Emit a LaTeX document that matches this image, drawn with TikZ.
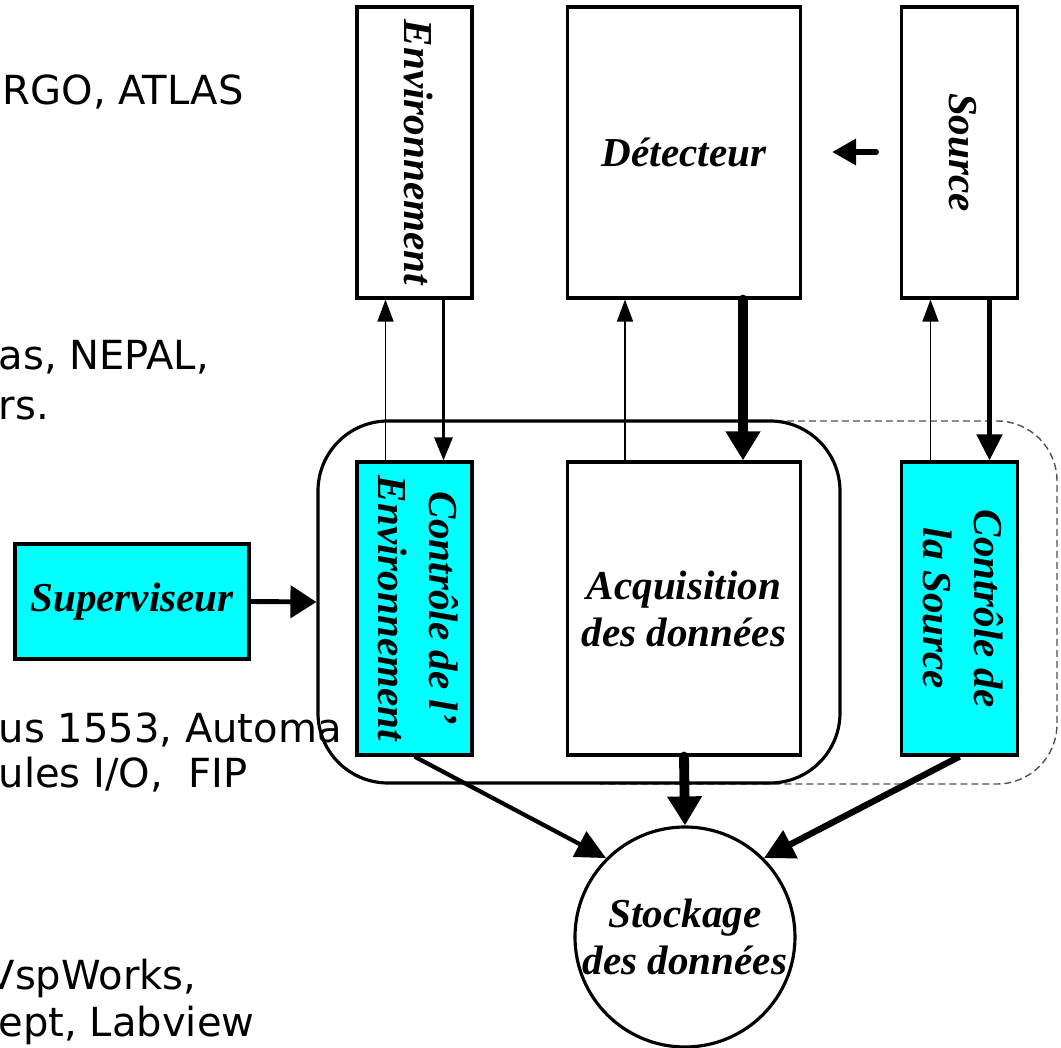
\documentclass[tikz,border=0pt]{standalone}
\usepackage{fontspec}
\setmainfont{Liberation Serif}
\newfontfamily\comicfont{DejaVu Sans}
\usepackage{graphicx}
\usetikzlibrary{arrows.meta}
\definecolor{boxcyan}{RGB}{0,255,255}
\definecolor{dashgray}{RGB}{80,80,80}
\newcommand{\vlabel}[1]{\rotatebox{-90}{\def\arraystretch{1.08}\begin{tabular}{@{}c@{}}#1\end{tabular}}}

\tikzset{
  blk/.style={draw, line width=0.9pt, inner sep=0pt, align=center,
    font=\fontsize{11.7}{13.4}\selectfont\bfseries\itshape},
  cyanblk/.style={blk, fill=boxcyan},
  frag/.style={anchor=base west, inner sep=0pt,
    font=\comicfont\fontsize{11.4}{13}\selectfont},
  sigline/.style={line width=0.45pt, -{Triangle[length=0.22cm,width=0.16cm]}},
  ctlline/.style={line width=0.85pt, -{Triangle[length=0.23cm,width=0.18cm]}},
  srcline/.style={line width=1.4pt, -{Triangle[length=0.26cm,width=0.25cm]}},
  dataline/.style={line width=2.8pt, line cap=round, -{Triangle[length=0.29cm,width=0.33cm]}},
  supline/.style={line width=1.4pt, -{Triangle[length=0.26cm,width=0.32cm]}},
}

\begin{document}
\begin{tikzpicture}[y=-1cm]
\useasboundingbox (0,0) rectangle (10.61,10.48);
\clip (0,0) rectangle (10.61,10.48);

\node[frag] (t1) at (0.02,1.05) {RGO, ATLAS};
\node[frag] (t2) at (-0.02,3.70) {as, NEPAL,};
\node[frag] (t3) at (-0.02,4.20) {rs.};
\node[frag] (t4) at (-0.02,7.43) {us 1553, Automa};
\node[frag] (t5) at (-0.02,7.88) {ules I/O,~ FIP};
\node[frag] (t6) at (-0.13,9.90) {VspWorks,};
\node[frag] (t7) at (-0.02,10.37) {ept, Labview};

\node[blk, minimum width=1.15cm, minimum height=2.91cm] (env) at (4.145,1.525) {\vlabel{Environnement}};
\node[blk, minimum width=2.33cm, minimum height=2.91cm] (det) at (6.84,1.525) {D\'etecteur};
\node[blk, minimum width=1.16cm, minimum height=2.91cm] (src) at (9.595,1.525) {\vlabel{Source}};
\coordinate (s1) at (8.76,1.52);
\coordinate (s2) at (8.32,1.52);
\path[draw,line width=1.7pt,line cap=round,-{Triangle[length=0.24cm,width=0.25cm]}] (s1) -- (s2);

\draw[dashgray, line width=0.4pt, dash pattern=on 0.07cm off 0.04cm, rounded corners=0.6cm]
  (6.0,4.21) -- (10.57,4.21) -- (10.57,7.84) -- (6.0,7.84);
\node[draw, line width=0.9pt, rounded corners=0.7cm, minimum width=5.22cm, minimum height=3.62cm] (daq) at (5.79,6.02) {};

\node[cyanblk, minimum width=1.15cm, minimum height=2.93cm] (ctlenv) at (4.145,6.085) {\vlabel{Contr\^ole de l'\\Environnement}};
\node[blk, fill=white, minimum width=2.33cm, minimum height=2.93cm] (acq) at (6.84,6.085) {Acquisition\\des donn\'ees};
\node[cyanblk, minimum width=1.16cm, minimum height=2.93cm] (ctlsrc) at (9.595,6.085) {\vlabel{Contr\^ole de\\la Source}};
\node[cyanblk, minimum width=2.34cm, minimum height=1.15cm] (sup) at (1.32,6.015) {Superviseur};
\node[blk, circle, minimum size=2.2cm] (stock) at (6.85,9.37) {Stockage\\des donn\'ees};

\path[draw,sigline] ([xshift=-0.29cm]ctlenv.north) -- ([xshift=-0.29cm]env.south);
\path[draw,ctlline] ([xshift=0.29cm]env.south) -- ([xshift=0.29cm]ctlenv.north);
\path[draw,sigline] ([xshift=-0.59cm]acq.north) -- ([xshift=-0.59cm]det.south);
\path[draw,dataline] ([xshift=0.59cm]det.south) -- ([xshift=0.59cm]acq.north);
\path[draw,sigline] ([xshift=-0.29cm]ctlsrc.north) -- ([xshift=-0.29cm]src.south);
\path[draw,srcline] ([xshift=0.3cm]src.south) -- ([xshift=0.3cm]ctlsrc.north);
\path[draw,supline] (sup.east) -- (daq.west);
\path[draw,line width=1.2pt,-{Triangle[length=0.30cm,width=0.28cm]}] (ctlenv.south) -- (stock.135);
\path[draw,dataline] (acq.south) -- (stock.north);
\path[draw,line width=1.8pt,-{Triangle[length=0.30cm,width=0.30cm]}] (ctlsrc.south) -- (stock.45);
\end{tikzpicture}
\end{document}
